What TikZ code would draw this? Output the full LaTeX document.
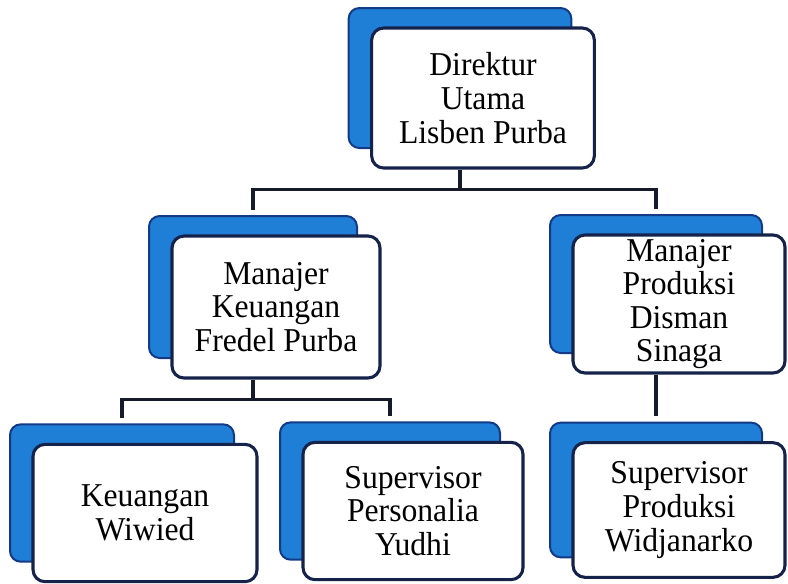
\documentclass[tikz,border=0pt]{standalone}
\usepackage{fontspec}
\setmainfont{Liberation Serif}
\newfontfamily\cardfont[FakeStretch=0.95]{Liberation Serif}
\usetikzlibrary{calc}
\definecolor{oblue}{HTML}{1F7ED6}
\definecolor{odeep}{HTML}{123A86}
\definecolor{onavy}{HTML}{15224A}
\definecolor{oline}{HTML}{161B2C}

% card with its blue backing plate, offset up and left
\newcommand\orgcard[5]{%
  \node[back,minimum width=#3,minimum height=#4] (#1-bk) at ($(#2)+(-23,-20)$) {};
  \node[card,minimum width=#3,minimum height=#4] (#1) at (#2) {#5};}

\begin{document}
\begin{tikzpicture}[x=0.75pt,y=-0.75pt,
  back/.style={draw=odeep,fill=oblue,line width=1.5pt,rounded corners=8pt},
  card/.style={draw=onavy,fill=white,line width=2.3pt,rounded corners=9pt,
               align=center,inner sep=0pt,font=\cardfont\fontsize{25}{25.2}\selectfont},
  link/.style={draw=oline,line width=2.3pt}]
  \useasboundingbox (0,0) rectangle (788,583);
  \orgcard{dir}{483,98}{167pt}{105pt}{Direktur\\Utama\\Lisben Purba}
  \orgcard{mk}{276,307}{156pt}{106.5pt}{Manajer\\Keuangan\\Fredel Purba}
  \orgcard{mp}{679,304}{159pt}{103.5pt}{Manajer\\Produksi\\Disman\\Sinaga}
  \orgcard{kw}{145,513}{168pt}{103pt}{Keuangan\\Wiwied}
  \orgcard{sp}{413,511}{165pt}{103pt}{Supervisor\\Personalia\\Yudhi}
  \orgcard{spr}{679,510}{159pt}{101pt}{Supervisor\\Produksi\\Widjanarko}
  % connectors
  \coordinate (j1) at ($(dir.south -| dir-bk.center)+(0,20)$);
  \coordinate (j2) at ($(mk.south -| mk-bk.center)+(0,20)$);
  \draw[link] (dir.south -| dir-bk.center) -- (j1);
  \draw[link] ([yshift=4pt]mk-bk.north) |- (j1) -| ([yshift=4pt]mp-bk.north);
  \draw[link] (mk.south -| mk-bk.center) -- (j2);
  \draw[link] ([yshift=4pt]kw-bk.north) |- (j2) -| ([yshift=4pt]sp-bk.north);
  \draw[link] (mp.south -| mp-bk.center) -- ([yshift=4pt]spr-bk.north);
\end{tikzpicture}
\end{document}
